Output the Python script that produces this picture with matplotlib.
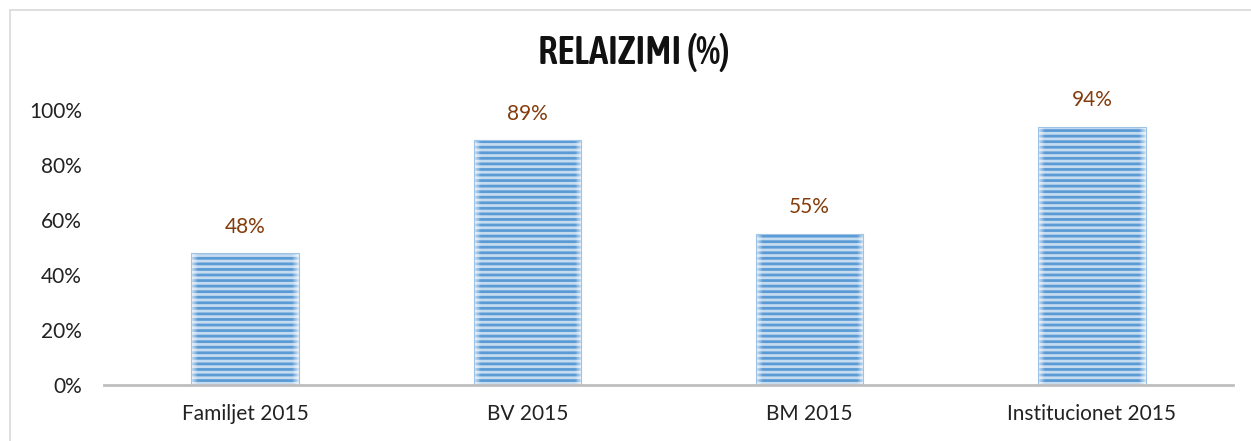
import matplotlib
matplotlib.use("Agg")
import matplotlib.pyplot as plt
import numpy as np
from matplotlib.patches import Rectangle
from matplotlib import font_manager

categories = ["Familjet 2015", "BV 2015", "BM 2015", "Institucionet 2015"]
values = [0.48, 0.89, 0.55, 0.94]
value_labels = ["48%", "89%", "55%", "94%"]
yticks = [0.0, 0.2, 0.4, 0.6, 0.8, 1.0]
ytick_labels = ["0%", "20%", "40%", "60%", "80%", "100%"]
title = "RELAIZIMI (%)"

plt.rcParams['font.family'] = ['Lato', 'DejaVu Sans']
plt.rcParams['hatch.linewidth'] = 2.0


def _is_bold(w):
    if isinstance(w, (int, float)):
        return w >= 600
    return str(w).lower() in ('bold', 'heavy', 'black', 'extra bold', 'semibold', 'demibold')


entries = [(f.name, f.weight) for f in font_manager.fontManager.ttflist
           if ('Narrow' in f.name or 'Condensed' in f.name)]
bold_names = sorted({n for n, w in entries if _is_bold(w)})
any_names = sorted({n for n, w in entries})
if bold_names:
    title_family = bold_names[0]
elif any_names:
    title_family = any_names[0]
else:
    title_family = 'Roboto'

W, H = 1251, 441
fig = plt.figure(figsize=(W / 100, H / 100), dpi=100)

left_px, right_px = 104, 1233
zero_px, one_px = 385, 110
ax = fig.add_axes([left_px / W, 1 - zero_px / H, (right_px - left_px) / W, (zero_px - one_px) / H])

x = np.arange(len(categories))
bars = ax.bar(x, values, width=0.38, color='#C5DBF0', edgecolor='#5B9BD5',
              linewidth=0, hatch='---', zorder=2)

grad = np.concatenate([np.linspace(0.7, 0, 7), np.zeros(86), np.linspace(0, 0.7, 7)])
rgba = np.ones((1, grad.size, 4))
rgba[0, :, 3] = grad
for b in bars:
    ax.imshow(rgba, extent=(b.get_x(), b.get_x() + b.get_width(), 0, b.get_height()),
              aspect='auto', zorder=3, interpolation='bilinear')
    ax.add_patch(Rectangle((b.get_x(), 0), b.get_width(), b.get_height(), fill=False,
                           edgecolor='#9DC3E6', linewidth=0.8, zorder=3.5))

for b, lab in zip(bars, value_labels):
    ax.annotate(lab, (b.get_x() + b.get_width() / 2, b.get_height()),
                xytext=(0, 19), textcoords='offset points', ha='center', va='center',
                fontsize=15, color='#843C0C', annotation_clip=False)

ax.set_xlim(-0.5, len(categories) - 0.5)
ax.set_ylim(0, 1.0)
ax.set_yticks(yticks)
ax.set_yticklabels(ytick_labels, fontsize=15, color='#222222')
ax.set_xticks(x)
ax.set_xticklabels(categories, fontsize=15, color='#222222')
ax.tick_params(axis='y', length=0, pad=16)
ax.tick_params(axis='x', length=0, pad=14)
for s in ['left', 'right', 'top']:
    ax.spines[s].set_visible(False)
ax.spines['bottom'].set_color('#BFBFBF')
ax.spines['bottom'].set_linewidth(2)
ax.spines['bottom'].set_zorder(4)

fig.text(634 / W, 1 - 53 / H, title, ha='center', va='center', fontsize=28,
         fontweight=600, family=[title_family, 'DejaVu Sans'], color='#111111')

fig.patches.append(Rectangle((9.5 / W, -0.1), 1.2, 1.1 - 10 / H, transform=fig.transFigure,
                             fill=False, edgecolor='#D9D9D9', linewidth=1.2))

fig.savefig("out.png", dpi=100)
